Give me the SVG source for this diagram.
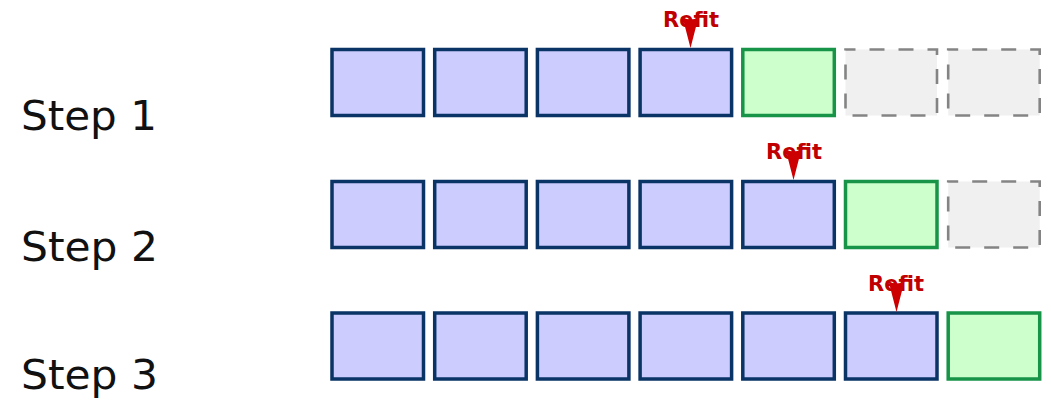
<svg xmlns="http://www.w3.org/2000/svg" width="1051" height="400" viewBox="0 0 1051 400">
<defs>
<style>
.lbl{font-family:"DejaVu Sans","Noto Sans",sans-serif;font-size:41px;fill:#111}
.refit{font-family:"DejaVu Sans","Noto Sans",sans-serif;font-weight:bold;font-size:21px;fill:#c00000;text-anchor:middle}
.b{fill:#ccccff;stroke:#0a3366;stroke-width:3.5}
.g{fill:#ccffcc;stroke:#179447;stroke-width:3.5}
.e{fill:#f0f0f0;stroke:#848484;stroke-width:2.6;stroke-dasharray:15 14;stroke-dashoffset:5}
.arr{fill:#cc0000;stroke:none}
</style>
</defs>
<rect width="1051" height="400" fill="#fff"/>
<g id="labels">
<text class="lbl" x="21" y="130" textLength="136" lengthAdjust="spacingAndGlyphs">Step 1</text>
<text class="lbl" x="21" y="261" textLength="137" lengthAdjust="spacingAndGlyphs">Step 2</text>
<text class="lbl" x="21" y="389" textLength="137" lengthAdjust="spacingAndGlyphs">Step 3</text>
</g>
<g id="row1">
<rect id="r1c1" class="b" x="332" y="49.5" width="91.5" height="66"/>
<rect id="r1c2" class="b" x="434.7" y="49.5" width="91.5" height="66"/>
<rect id="r1c3" class="b" x="537.4" y="49.5" width="91.5" height="66"/>
<rect id="r1c4" class="b" x="640.1" y="49.5" width="91.5" height="66"/>
<rect id="r1c5" class="g" x="742.8" y="49.5" width="91.5" height="66"/>
<rect id="r1c6" class="e" x="845.5" y="49.5" width="91.5" height="66"/>
<rect id="r1c7" class="e" x="948.2" y="49.5" width="91.5" height="66"/>
<text id="r1refit" class="refit" x="691" y="27">Refit</text>
</g>
<g id="row2">
<rect id="r2c1" class="b" x="332" y="181.5" width="91.5" height="66"/>
<rect id="r2c2" class="b" x="434.7" y="181.5" width="91.5" height="66"/>
<rect id="r2c3" class="b" x="537.4" y="181.5" width="91.5" height="66"/>
<rect id="r2c4" class="b" x="640.1" y="181.5" width="91.5" height="66"/>
<rect id="r2c5" class="b" x="742.8" y="181.5" width="91.5" height="66"/>
<rect id="r2c6" class="g" x="845.5" y="181.5" width="91.5" height="66"/>
<rect id="r2c7" class="e" x="948.2" y="181.5" width="91.5" height="66"/>
<text id="r2refit" class="refit" x="794" y="159">Refit</text>
</g>
<g id="row3">
<rect id="r3c1" class="b" x="332" y="313" width="91.5" height="66"/>
<rect id="r3c2" class="b" x="434.7" y="313" width="91.5" height="66"/>
<rect id="r3c3" class="b" x="537.4" y="313" width="91.5" height="66"/>
<rect id="r3c4" class="b" x="640.1" y="313" width="91.5" height="66"/>
<rect id="r3c5" class="b" x="742.8" y="313" width="91.5" height="66"/>
<rect id="r3c6" class="b" x="845.5" y="313" width="91.5" height="66"/>
<rect id="r3c7" class="g" x="948.2" y="313" width="91.5" height="66"/>
<text id="r3refit" class="refit" x="896" y="291">Refit</text>
</g>
<g id="connectors">
<path class="arr" d="M682.5,17 Q690.5,22 698.5,17 L690.5,48 Z"/>
<path class="arr" d="M785.5,149 Q793.5,154 801.5,149 L793.5,180 Z"/>
<path class="arr" d="M888.5,281 Q896.5,286 904.5,281 L896.5,312 Z"/>
</g>
</svg>
